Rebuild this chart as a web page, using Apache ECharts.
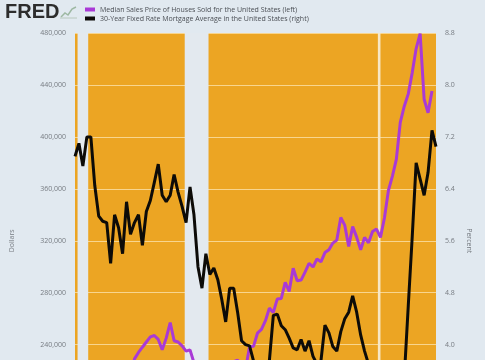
<!DOCTYPE html>
<html>
<head>
<meta charset="utf-8">
<script src="https://cdn.jsdelivr.net/npm/echarts@6/dist/echarts.min.js"></script>
<style>
html,body{margin:0;padding:0;background:#e1e9f0;overflow:hidden;}
#c{width:485px;height:452px;}
</style>
</head>
<body>
<div id="c"></div>
<script>
// ---- data ----
const startYear = 2001, endYear = 2023;
const quarters = [];
for (let y = startYear; y <= endYear; y++) {
  for (const m of ['01', '04', '07', '10']) quarters.push(y + '-' + m + '-01');
}
const seriesNames = [
  'Median Sales Price of Houses Sold for the United States (left)',
  '30-Year Fixed Rate Mortgage Average in the United States (right)'
];
// Median sales price, dollars (quarterly)
const medianPrice = [
  169800, 175000, 172500, 171100, 188700, 187200, 178100, 190100,
  186000, 191800, 191900, 198800, 212700, 217600, 213500, 229000,
  234000, 238000, 242000, 246000, 247000, 244000, 236000, 245000,
  257000, 243000, 242000, 239000, 235000, 236000, 226000, 222500,
  208400, 220900, 214500, 219000, 222900, 219500, 224100, 224300,
  226900, 228100, 223500, 221100, 238400, 238700, 248800, 251700,
  258400, 268100, 264800, 275200, 275600, 288000, 281000, 298900,
  289200, 289700, 295800, 302500, 299800, 306000, 303800, 310900,
  313100, 318200, 320500, 337900, 331800, 315600, 330900, 322800,
  313000, 322500, 318400, 327100, 329000, 322600, 337500, 358700,
  369800, 382600, 411200, 423600, 433100, 449300, 468000, 479500,
  429000, 418500, 435400, null
];
// 30-year mortgage rate, percent (quarterly)
const mortgageRate = [
  6.90, 7.10, 6.75, 7.20, 7.20, 6.45, 5.98, 5.90,
  5.88, 5.25, 6.00, 5.80, 5.40, 6.20, 5.70, 5.88,
  6.00, 5.53, 6.05, 6.22, 6.50, 6.78, 6.30, 6.20,
  6.30, 6.62, 6.35, 6.13, 5.88, 6.43, 6.00, 5.20,
  4.87, 5.40, 5.08, 5.18, 5.00, 4.70, 4.35, 4.87,
  4.87, 4.50, 4.06, 4.00, 3.98, 3.75, 3.65, 3.55,
  3.50, 3.75, 4.45, 4.47, 4.29, 4.23, 4.10, 3.95,
  3.92, 4.08, 3.90, 4.06, 3.82, 3.70, 3.75, 4.30,
  4.18, 3.97, 3.90, 4.20, 4.40, 4.50, 4.75, 4.50,
  4.15, 3.90, 3.70, 3.60, 3.50, 3.30, 3.10, 2.90,
  2.80, 2.90, 2.95, 3.50, 4.60, 5.65, 6.80, 6.55,
  6.30, 6.65, 7.30, 7.05
];
const recessionStart = ['2001-03-01', '2007-12-01', '2020-02-01'];
const recessionEnd   = ['2001-11-01', '2009-06-01', '2020-04-01'];
const leftAxis = { min: 160000, max: 480000, step: 40000, name: 'Dollars' };
const rightAxis = { min: 2.4, max: 8.8, step: 0.8, name: 'Percent' };

// ---- chart ----
const chart = echarts.init(document.getElementById('c'), null, { renderer: 'canvas' });
const FONT = 'Open Sans';
const labelStyle = { color: '#767b81', fontSize: 7, fontFamily: FONT };

const priceData = quarters.map((d, i) => [d, medianPrice[i]]);
const rateData = quarters.map((d, i) => [d, mortgageRate[i]]);
const recessionAreas = recessionStart.map((s, i) => [
  { xAxis: s, itemStyle: { color: i === 2 ? '#f7e7c6' : '#e3e9ef' } },
  { xAxis: recessionEnd[i] }
]);

chart.setOption({
  backgroundColor: '#e1e9f0',
  animation: false,
  textStyle: { fontFamily: FONT },
  grid: {
    left: 72, right: 49, top: 33, bottom: 0,
    show: true, backgroundColor: '#eca523', borderWidth: 0
  },
  legend: {
    orient: 'vertical', left: 85, top: 6, itemGap: 2, padding: 0,
    itemWidth: 10, itemHeight: 4,
    textStyle: { color: '#4b4f55', fontSize: 7, fontFamily: FONT },
    data: [
      { name: seriesNames[0], icon: 'rect' },
      { name: seriesNames[1], icon: 'rect' }
    ]
  },
  graphic: [
    {
      type: 'text', left: 5, top: 2,
      style: { text: 'FRED', font: 'bold 20px "Liberation Sans", Arial', fill: '#2d2d2d' }
    },
    {
      type: 'polyline', shape: { points: [[61, 17], [65, 13], [68, 15], [72, 9], [76, 7]] },
      style: { stroke: '#9db8a2', lineWidth: 1.5, fill: null }
    },
    {
      type: 'polyline', shape: { points: [[60, 18], [77, 18]] },
      style: { stroke: '#b8c8bd', lineWidth: 1, fill: null }
    }
  ],
  xAxis: {
    type: 'time', min: '2001-01-01', max: '2023-10-01',
    axisLine: { show: false }, axisTick: { show: false },
    axisLabel: { show: false }, splitLine: { show: false }
  },
  yAxis: [
    {
      type: 'value', position: 'left',
      min: leftAxis.min, max: leftAxis.max, interval: leftAxis.step,
      name: leftAxis.name, nameLocation: 'middle', nameGap: 60, nameRotate: 90,
      nameTextStyle: labelStyle,
      axisLine: { show: false }, axisTick: { show: false },
      axisLabel: Object.assign({ margin: 9, formatter: v => v.toLocaleString('en-US') }, labelStyle),
      splitLine: { show: true, lineStyle: { color: '#f8d58e', width: 1 } }
    },
    {
      type: 'value', position: 'right',
      min: rightAxis.min, max: rightAxis.max, interval: rightAxis.step,
      name: rightAxis.name, nameLocation: 'middle', nameGap: 26, nameRotate: -90,
      nameTextStyle: labelStyle,
      axisLine: { show: false }, axisTick: { show: false },
      axisLabel: Object.assign({ margin: 9, formatter: v => v.toFixed(1) }, labelStyle),
      splitLine: { show: false }
    }
  ],
  series: [
    {
      name: seriesNames[0], type: 'line', yAxisIndex: 0,
      data: priceData, showSymbol: false, connectNulls: false,
      lineStyle: { color: '#a93ad6', width: 3 }, itemStyle: { color: '#a93ad6' },
      z: 3,
      markArea: {
        silent: true,
        itemStyle: { color: '#e3e9ef' },
        data: recessionAreas
      }
    },
    {
      name: seriesNames[1], type: 'line', yAxisIndex: 1,
      data: rateData, showSymbol: false,
      lineStyle: { color: '#0d0b08', width: 3 }, itemStyle: { color: '#0d0b08' },
      z: 4
    }
  ]
});
</script>
</body>
</html>
